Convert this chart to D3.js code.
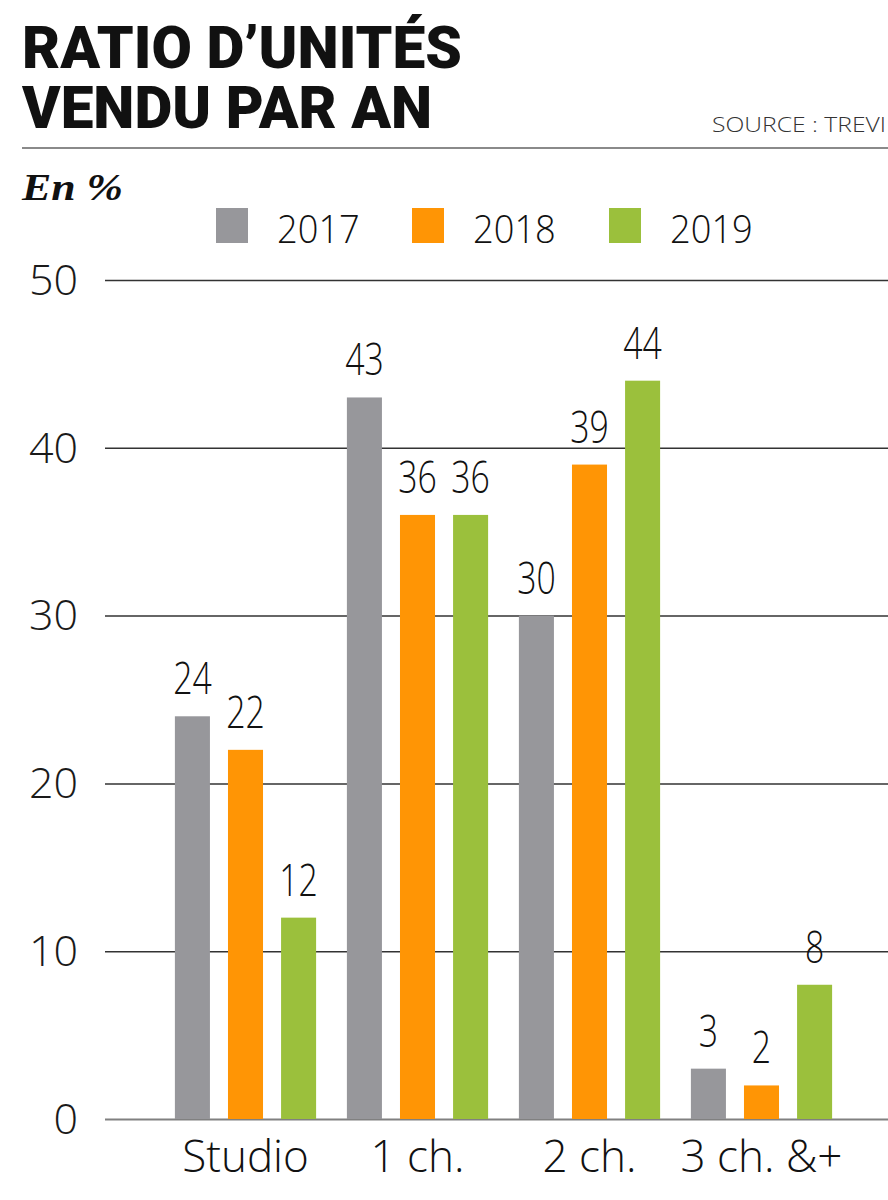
<!DOCTYPE html>
<html><head><meta charset="utf-8">
<script src="https://cdn.jsdelivr.net/npm/d3@7"></script>
<style>html,body{margin:0;padding:0;background:#fff}svg{display:block}</style>
</head><body>
<script>
const categories = ["Studio", "1 ch.", "2 ch.", "3 ch. &+"];
const years = ["2017", "2018", "2019"];
const values2017 = [24, 43, 30, 3];
const values2018 = [22, 36, 39, 2];
const values2019 = [12, 36, 44, 8];
const yTicks = [0, 10, 20, 30, 40, 50];
const titleLines = ["RATIO D’UNITÉS", "VENDU PAR AN"];
const colors = ["#97979b", "#ff9505", "#9bc03c"];

const series = [values2017, values2018, values2019];
const W = 888, H = 1200;
const svg = d3.select("body").append("svg").attr("width", W).attr("height", H);

// Title (one text element, two lines)
const titleWidths = [440, 410];
const title = svg.append("text").attr("transform", "translate(22,68) scale(1,1.15)")
  .attr("font-family", "Roboto, 'Liberation Sans', sans-serif")
  .attr("font-weight", 900).attr("font-size", 52).attr("fill", "#111");
title.selectAll("tspan").data(titleLines).join("tspan")
  .attr("x", 0).attr("y", (d, i) => i * 60 / 1.15)
  .attr("textLength", (d, i) => titleWidths[i]).attr("lengthAdjust", "spacingAndGlyphs")
  .text(d => d);

svg.append("text").attr("x", 712).attr("y", 132).attr("textLength", 174)
  .attr("lengthAdjust", "spacingAndGlyphs")
  .attr("font-family", "'Open Sans', sans-serif").attr("font-weight", 300)
  .attr("font-size", 20).attr("fill", "#333").text("SOURCE : TREVI");

svg.append("line").attr("x1", 22).attr("x2", W).attr("y1", 148).attr("y2", 148)
  .attr("stroke", "#8a8a8a").attr("stroke-width", 2);

svg.append("text").attr("x", 22).attr("y", 200).attr("textLength", 101)
  .attr("lengthAdjust", "spacingAndGlyphs")
  .attr("font-family", "'Liberation Serif', serif").attr("font-style", "italic")
  .attr("font-weight", 700).attr("font-size", 38).attr("fill", "#111").text("En %");

// Legend
const legendX = [216, 412, 609];
const lg = svg.append("g").selectAll("g").data(years).join("g")
  .attr("transform", (d, i) => `translate(${legendX[i]},208)`);
lg.append("rect").attr("width", 32).attr("height", 35).attr("fill", (d, i) => colors[i]);
lg.append("text").attr("transform", "translate(61,35) scale(0.93,1)")
  .attr("font-family", "'Open Sans', sans-serif").attr("font-weight", 300)
  .attr("font-size", 39).attr("fill", "#111").text(d => d);

// Scales
const y = d3.scaleLinear().domain([0, 50]).range([1119, 280]);
const x0 = d3.scaleBand().domain(categories).range([159.5, 847.5]).padding(0);
const x1 = d3.scaleBand().domain(years).range([0, x0.bandwidth()])
  .paddingInner(0.34).paddingOuter(0.29);

// Gridlines & y labels
const yAxis = d3.axisLeft(y).tickValues(yTicks).tickSize(-(W - 105)).tickPadding(27);
const ga = svg.append("g").attr("transform", "translate(105,0)").call(yAxis);
ga.select(".domain").remove();
ga.selectAll(".tick line").attr("stroke", d => d === 0 ? "#808080" : "#333")
  .attr("stroke-width", d => d === 0 ? 2 : 1.5);
ga.selectAll(".tick text").attr("font-family", "'Open Sans', sans-serif")
  .attr("font-weight", 300).attr("font-size", 43).attr("fill", "#1a1a1a")
  .attr("dy", "0.33em");

// Bars
const groups = svg.append("g").selectAll("g").data(categories).join("g")
  .attr("transform", d => `translate(${x0(d)},0)`);
const bars = groups.selectAll("g").data((c, ci) => years.map((yr, si) => ({yr, si, v: series[si][ci]})))
  .join("g");
bars.append("rect").attr("x", d => x1(d.yr)).attr("width", x1.bandwidth())
  .attr("y", d => y(d.v)).attr("height", d => y(0) - y(d.v)).attr("fill", d => colors[d.si]);
bars.append("text")
  .attr("transform", d => `translate(${x1(d.yr) + x1.bandwidth() / 2},${y(d.v) - 22}) scale(0.75,1)`)
  .attr("text-anchor", "middle").attr("font-family", "'Open Sans', sans-serif")
  .attr("font-weight", 300).attr("font-size", 45).attr("fill", "#111").text(d => d.v);

// Category labels
const xAxis = d3.axisBottom(x0).tickSize(0).tickPadding(0);
const gx = svg.append("g").attr("transform", "translate(0,1119)").call(xAxis);
gx.select(".domain").remove();
gx.selectAll(".tick text").attr("y", 53).attr("dy", 0).attr("x", 0)
  .attr("font-family", "'Open Sans', sans-serif").attr("font-weight", 300)
  .attr("font-size", 44).attr("fill", "#111");
</script>
</body></html>
